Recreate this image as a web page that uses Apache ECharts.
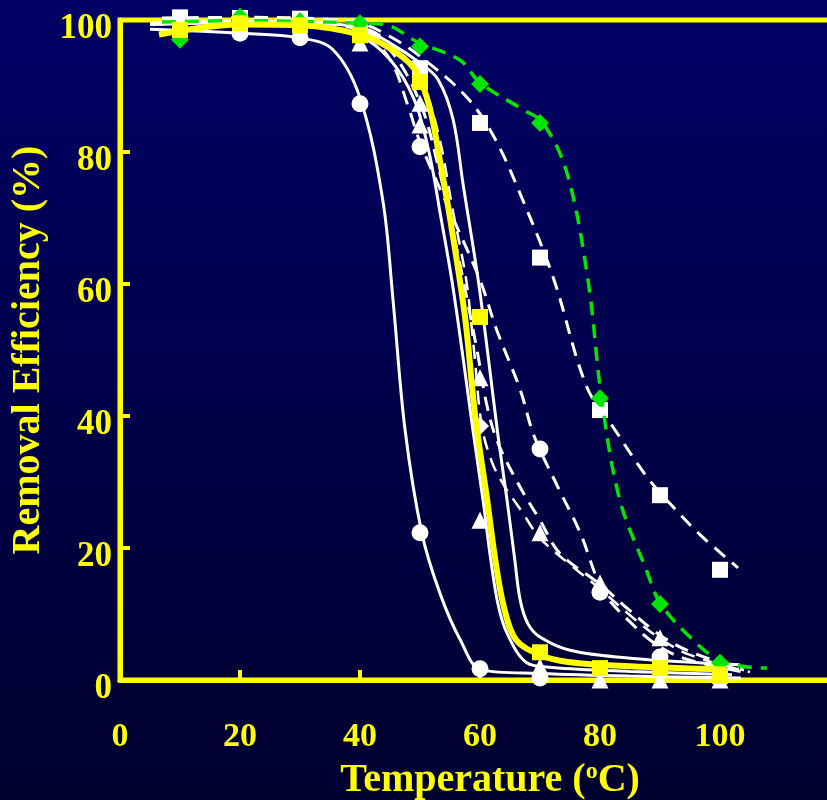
<!DOCTYPE html>
<html><head><meta charset="utf-8">
<script src="https://cdn.jsdelivr.net/npm/echarts@6/dist/echarts.min.js"></script>
<style>html,body{margin:0;padding:0;background:#000040;} #c{width:827px;height:800px;}</style>
</head><body><div id="c"></div>
<script>
// ---- data ----
const temps = [10, 20, 30, 40, 50, 60, 70, 80, 90, 100];
const xTickLabels = [0, 20, 40, 60, 80, 100];
const yTickLabels = [0, 20, 40, 60, 80, 100];

// measured points (markers)
const yellowSquares   = [98.5, 99.5, 99.2, 97.7, 90.6, 55.0, 4.2, 1.8, 1.8, 0.6];
const greenDiamonds   = [97.0, 100.5, 99.8, 99.5, 96.0, 90.3, 84.4, 42.7, 11.5, 2.6];
const whiteSquares    = [100.4, 100.3, 100.2, 99.0, 92.7, 84.4, 64.0, 40.9, 28.0, 16.7];
const solidCircles    = [null, 98.0, 97.3, 87.3, 22.3, 1.7, 0.3, null, null, null];
const dashedCircles   = [null, null, null, null, 80.8, null, 35.0, 13.3, 3.5, null];
const dashedTriangles = [null, null, null, 96.5, 87.4, 45.8, 22.3, 14.7, 6.4, null];
const solidTriangles  = [null, null, null, null, 84.1, 24.2, 2.0, 0, 0, 0];
const dashedDiamonds  = [null, null, null, null, null, 38.5, null, null, null, null];

// fitted curves as [temperature, efficiency]
const curveSolidCircles = [[5,98.6],[20,98.0],[30,97.3],[35.5,95.5],[40,88.2],[43.8,72.7],[45.5,57.6],[47.5,38],[50.3,22.3],[53.3,13.2],[56.7,6.1],[60.3,1.5],[70,1.0],[85,0.6],[103.5,0.3]];
const curveYellow = [[6.5,97.8],[20,99.3],[30,99.2],[40.3,97.7],[46.2,95],[49.5,92],[51.7,86.4],[53.3,78.8],[55,70],[57.5,55],[59.2,40],[61.2,27.3],[62.5,18.5],[64,11],[66,6.1],[70,3.8],[75,2.7],[85,2.1],[101,1.6]];
const curveGreen = [[7,99.7],[20,99.9],[30,99.8],[40,99.5],[44.5,99.2],[49.5,96.7],[56.7,93.9],[60,90.5],[67.2,86.4],[70.5,84.4],[74.5,76.8],[78,60.6],[80.3,42.4],[83.3,27.3],[87.8,16.5],[90,11.7],[95,6.5],[100.5,2.7],[107.8,1.8]];
const curveWhiteSquares = [[7,100.3],[20,100.4],[30,100.3],[40,99.5],[45,97.5],[50,94.5],[57.8,88.3],[62.5,82],[67,73],[72.2,61],[77.8,44.4],[82.2,38.3],[87.8,30.8],[92.2,26.2],[96.7,22],[103,17]];
const curveDashedCircles = [[7,100],[30,99.8],[40,98.5],[45,94],[48,87],[50,81.5],[55,71],[60,60.6],[62.8,53],[66.7,44],[69,37],[73,29.2],[76.7,22.3],[80.5,13.5],[85,8.8],[90,5],[95,3],[104,1.2]];
const curveDashedTriangles = [[7,100],[30,99.7],[40,98.5],[45,95.5],[50,87.5],[53,78],[55.5,68],[57.2,60.6],[59.5,50],[61.2,41.4],[63,35.9],[66.7,29.2],[70,24.2],[73.3,19.2],[80,14.5],[85,10.5],[90,6.8],[95,4.3],[104,1.5]];
const curveSolidTriangles = [[5,99.3],[20,99.6],[30,99.4],[40,97.5],[45,94],[49,88],[51.5,80],[53.5,70],[55.3,60.6],[57,50],[58.8,38],[60.5,27.3],[61.8,18.2],[63,11.5],[64.5,7.1],[67.8,2.6],[72,1.9],[85,1.3],[102,0.8]];
const curveSolidRight = [[5,99.5],[20,99.8],[30,99.7],[40,98.8],[45,96.5],[50,93.5],[53,91],[55.5,85],[57.2,75],[59.7,60.6],[61.5,48],[63,37],[64.5,27.3],[65.8,18.2],[66.7,12.1],[68,8.5],[70,6.5],[75,4.5],[85,3.3],[103.3,2.3]];
const curveDashedDiamonds = [[7,100.1],[30,99.9],[40,99],[45,96.5],[50,91],[53,83],[55.5,71],[57.7,60.6],[59,50],[60.3,38.5],[62,33],[64,29.5],[67,25.5],[70,21.5],[75,17.5],[80,13.8],[85,9.8],[90,6.3],[95,3.8],[105,1.2]];

// ---- styling ----
const YEL = '#ffff00', WHITE = '#ffffff', GREEN = '#00e600';
const FONT = 'Liberation Serif';
const DASH = [14, 9];

function curve(data, color, width, dashed, z) {
  return { type: 'line', data: data, smooth: 0.35, showSymbol: false,
    clip: false, silent: true, z: z,
    lineStyle: { color: color, width: width, type: dashed ? DASH : 'solid' } };
}
function marks(vals, symbol, size, color, z) {
  const pts = [];
  temps.forEach((t, i) => { if (vals[i] !== null) pts.push([t, vals[i]]); });
  return { type: 'scatter', data: pts, symbol: symbol, symbolSize: size, clip: false, silent: true, z: z,
    itemStyle: { color: color, opacity: 1 } };
}

const chart = echarts.init(document.getElementById('c'), null, { renderer: 'canvas' });
chart.setOption({
  animation: false,
  backgroundColor: { type: 'linear', x: 0, y: 0, x2: 0, y2: 1,
    colorStops: [{ offset: 0, color: '#000066' }, { offset: 1, color: '#00002e' }] },
  grid: { left: 120, top: 20, width: 720, height: 660, show: true, containLabel: false,
    outerBoundsMode: 'none',
    borderColor: YEL, borderWidth: 5, backgroundColor: 'transparent' },
  xAxis: {
    type: 'value', min: 0, max: 120, interval: 20,
    axisLine: { lineStyle: { color: YEL, width: 5 } },
    axisTick: { inside: true, length: 10, lineStyle: { color: YEL, width: 4 } },
    splitLine: { show: false },
    axisLabel: { color: YEL, fontFamily: FONT, fontWeight: 'bold', fontSize: 34, margin: 40,
      showMaxLabel: false, formatter: v => xTickLabels.includes(v) ? String(v) : '' },
    name: 'Temperature ({sup|o}C)', nameLocation: 'middle', nameGap: 80,
    nameTextStyle: { color: YEL, fontFamily: FONT, fontWeight: 'bold', fontSize: 40, padding: [0, 0, 0, 20],
      rich: { sup: { color: YEL, fontFamily: FONT, fontWeight: 'bold', fontSize: 24, padding: [0, 0, 18, 0] } } }
  },
  yAxis: {
    type: 'value', min: 0, max: 100, interval: 20,
    axisLine: { lineStyle: { color: YEL, width: 5 } },
    axisTick: { inside: true, length: 10, lineStyle: { color: YEL, width: 4 } },
    splitLine: { show: false },
    axisLabel: { color: YEL, fontFamily: FONT, fontWeight: 'bold', fontSize: 35, margin: 8,
      verticalAlign: 'top', lineHeight: 18,
      formatter: v => yTickLabels.includes(v) ? String(v) : '' },
    name: 'Removal Efficiency (%)', nameLocation: 'middle', nameRotate: 90, nameGap: 64,
    nameTextStyle: { color: YEL, fontFamily: FONT, fontWeight: 'bold', fontSize: 40 }
  },
  series: [
    curve(curveSolidCircles, WHITE, 3, false, 2),
    curve(curveSolidTriangles, WHITE, 3, false, 2),
    curve(curveSolidRight, WHITE, 3, false, 2),
    curve(curveDashedCircles, WHITE, 3, true, 2),
    curve(curveDashedTriangles, WHITE, 3, true, 2),
    curve(curveDashedDiamonds, WHITE, 2.5, true, 2),
    curve(curveWhiteSquares, WHITE, 3, true, 2),
    marks(solidCircles, 'circle', 17, WHITE, 3),
    marks(dashedCircles, 'circle', 17, WHITE, 3),
    marks(dashedTriangles, 'triangle', 17, WHITE, 3),
    marks(solidTriangles, 'triangle', 17, WHITE, 3),
    marks(dashedDiamonds, 'diamond', 18, WHITE, 3),
    marks(whiteSquares, 'rect', 16, WHITE, 3),
    curve(curveGreen, GREEN, 3.5, true, 4),
    marks(greenDiamonds, 'diamond', 18, GREEN, 5),
    curve(curveYellow, YEL, 6, false, 6),
    marks(yellowSquares, 'rect', 16, YEL, 7)
  ]
});
</script>
</body></html>
